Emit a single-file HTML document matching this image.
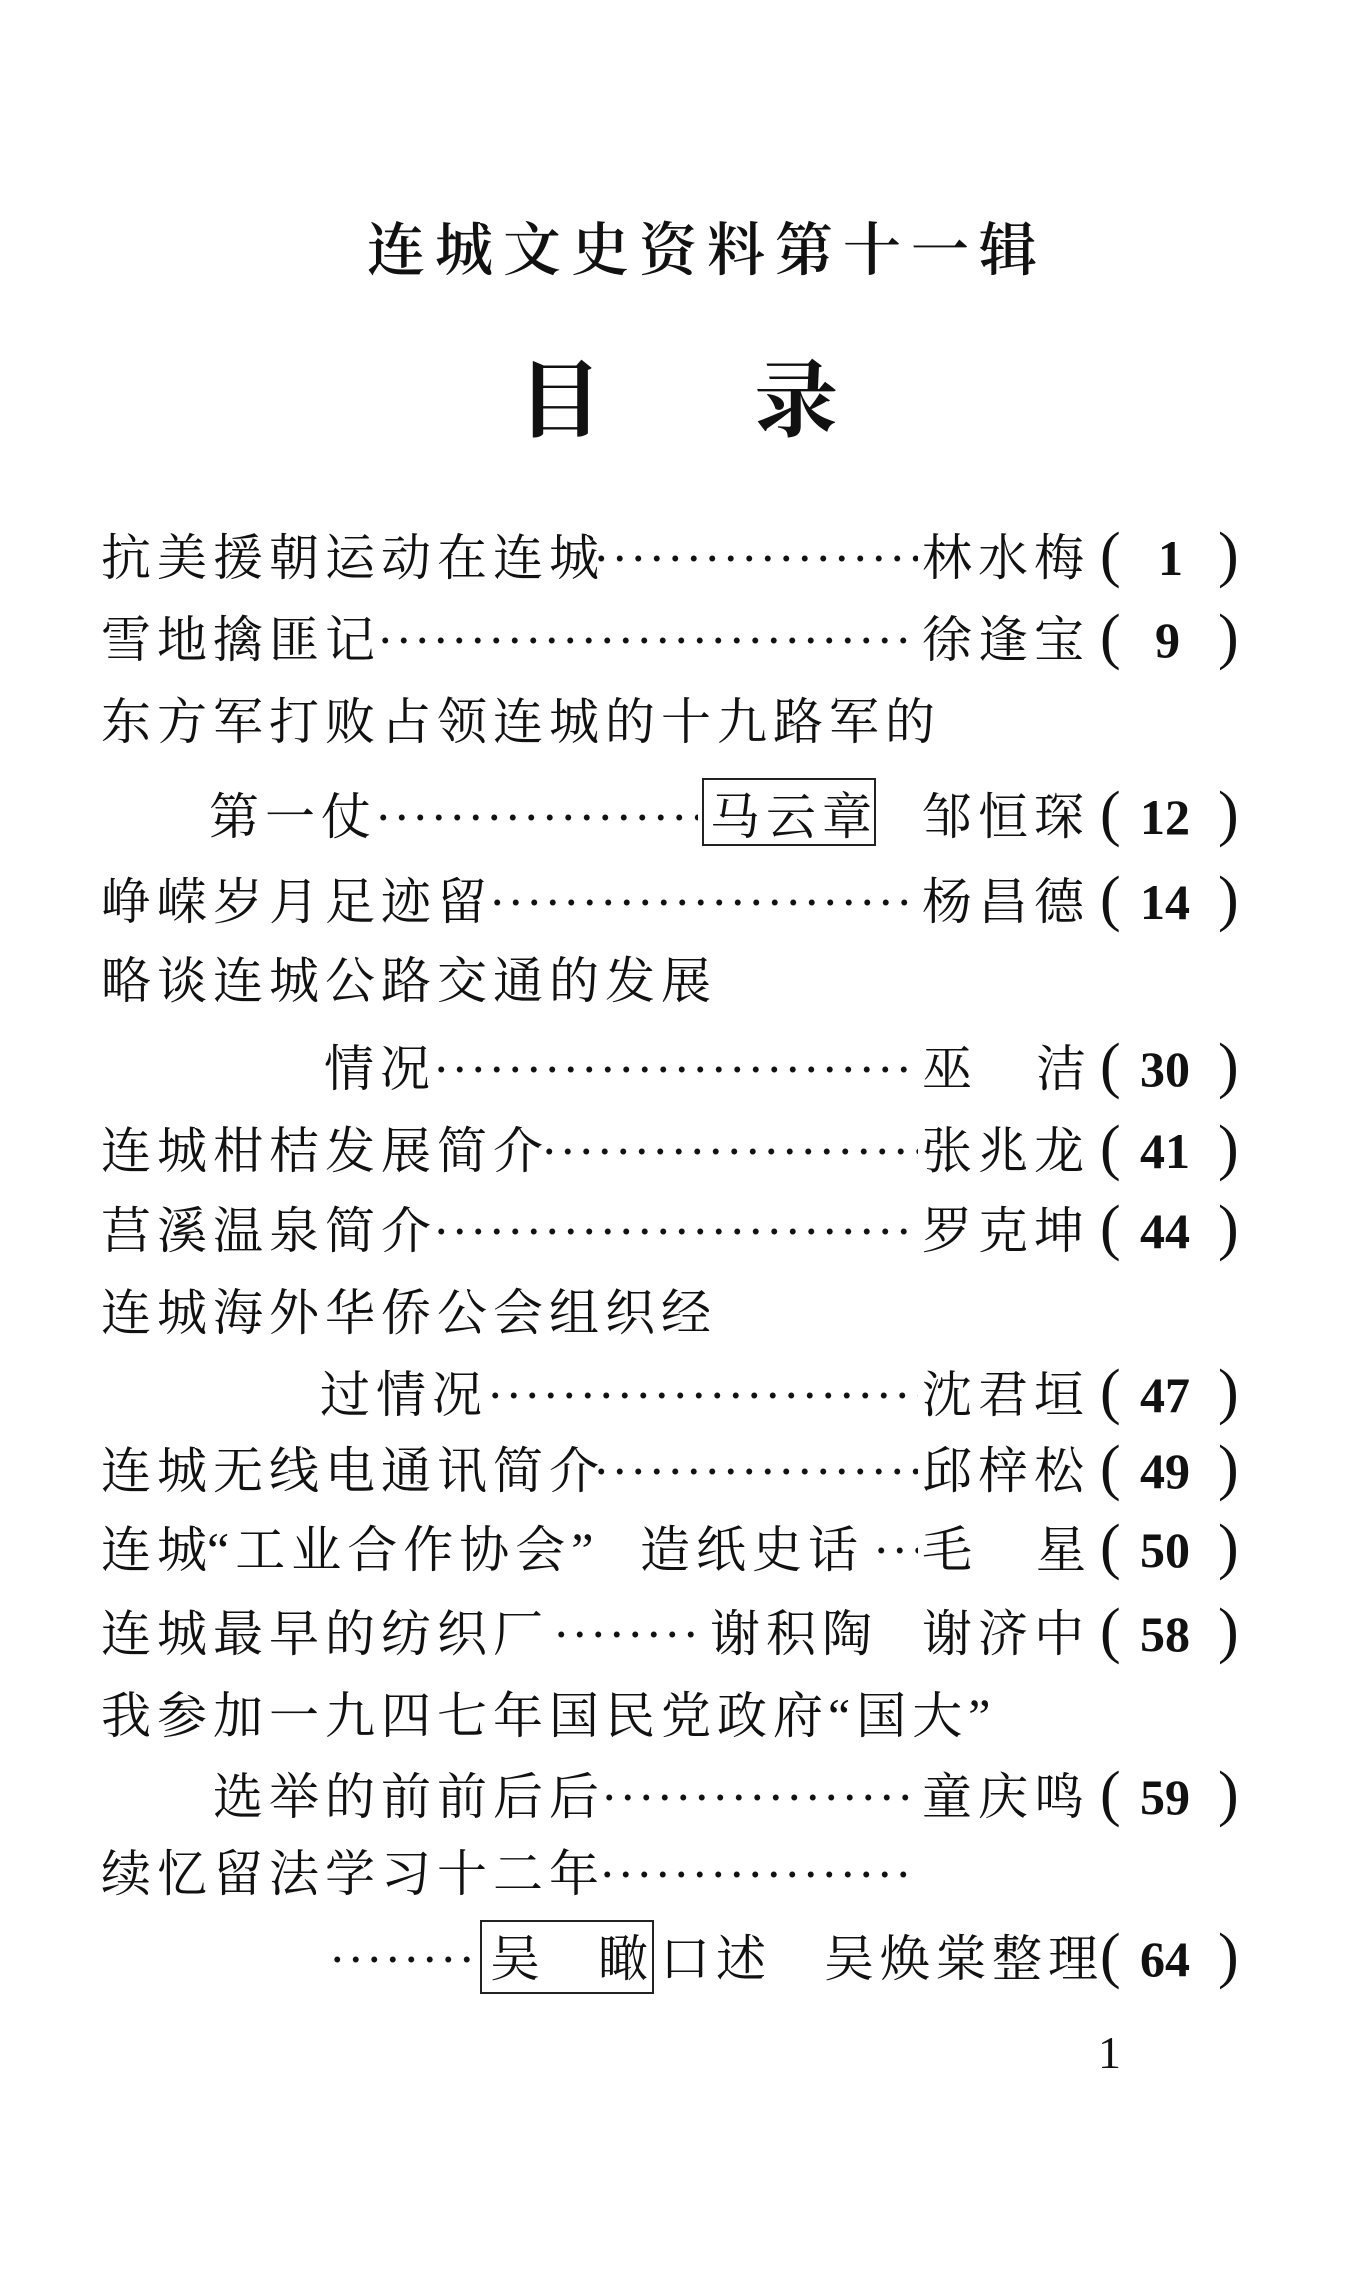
<!DOCTYPE html>
<html><head><meta charset="utf-8">
<style>
html,body{margin:0;padding:0;background:#fff;}
body{width:1347px;height:2280px;position:relative;overflow:hidden;color:#111;
font-family:"Liberation Serif","Noto Serif CJK SC",serif;}
.t{position:absolute;white-space:nowrap;}
.title{top:218px;left:367px;font-size:58px;letter-spacing:10px;font-weight:600;line-height:66px;}
.ml{top:355px;font-size:84px;font-weight:bold;line-height:96px;}
.row{position:absolute;left:0;width:1347px;height:60px;}
.row span{position:absolute;top:0;line-height:60px;font-size:50px;white-space:nowrap;letter-spacing:6px;}
.d{height:60px;background:radial-gradient(circle,#111 2.6px,transparent 3.2px) 0 center/18.5px 18.5px repeat-x;}
.p{font-family:"Liberation Serif",serif;font-weight:bold;letter-spacing:0 !important;}
.row span.q{font-family:"Liberation Serif",serif;font-weight:normal;font-size:62px;letter-spacing:0;top:-3px;}
.box{position:absolute;border:2px solid #222;border-style:solid double;}
</style></head><body>
<div class="t title">连城文史资料第十一辑</div>
<div class="t ml" style="left:518px">目</div>
<div class="t ml" style="left:754px">录</div>

<div class="row" style="top:528px"><span style="left:101px">抗美援朝运动在连城</span><span class="d" style="left:592px;width:326px"></span><span style="left:922px">林水梅</span><span class="q" style="left:1100px">(</span><span class="p" style="left:1158px">1</span><span class="q" style="left:1218px">)</span></div>

<div class="row" style="top:610px"><span style="left:101px">雪地擒匪记</span><span class="d" style="left:376px;width:542px"></span><span style="left:922px">徐逢宝</span><span class="q" style="left:1100px">(</span><span class="p" style="left:1155px">9</span><span class="q" style="left:1218px">)</span></div>

<div class="row" style="top:692px"><span style="left:101px">东方军打败占领连城的十九路军的</span></div>

<div class="row" style="top:787px"><span style="left:209px">第一仗</span><span class="d" style="left:374px;width:324px"></span><span style="left:710px">马云章</span><span style="left:922px">邹恒琛</span><span class="q" style="left:1100px">(</span><span class="p" style="left:1140px">12</span><span class="q" style="left:1218px">)</span></div>
<div class="box" style="left:702px;top:778px;width:170px;height:64px"></div>

<div class="row" style="top:872px"><span style="left:101px">峥嵘岁月足迹留</span><span class="d" style="left:488px;width:430px"></span><span style="left:922px">杨昌德</span><span class="q" style="left:1100px">(</span><span class="p" style="left:1140px">14</span><span class="q" style="left:1218px">)</span></div>

<div class="row" style="top:951px"><span style="left:101px">略谈连城公路交通的发展</span></div>

<div class="row" style="top:1039px"><span style="left:324px">情况</span><span class="d" style="left:432px;width:486px"></span><span style="left:922px">巫</span><span style="left:1036px">洁</span><span class="q" style="left:1100px">(</span><span class="p" style="left:1140px">30</span><span class="q" style="left:1218px">)</span></div>

<div class="row" style="top:1121px"><span style="left:101px">连城柑桔发展简介</span><span class="d" style="left:540px;width:378px"></span><span style="left:922px">张兆龙</span><span class="q" style="left:1100px">(</span><span class="p" style="left:1140px">41</span><span class="q" style="left:1218px">)</span></div>

<div class="row" style="top:1201px"><span style="left:101px">莒溪温泉简介</span><span class="d" style="left:432px;width:486px"></span><span style="left:922px">罗克坤</span><span class="q" style="left:1100px">(</span><span class="p" style="left:1140px">44</span><span class="q" style="left:1218px">)</span></div>

<div class="row" style="top:1283px"><span style="left:101px">连城海外华侨公会组织经</span></div>

<div class="row" style="top:1365px"><span style="left:320px">过情况</span><span class="d" style="left:486px;width:432px"></span><span style="left:922px">沈君垣</span><span class="q" style="left:1100px">(</span><span class="p" style="left:1140px">47</span><span class="q" style="left:1218px">)</span></div>

<div class="row" style="top:1441px"><span style="left:101px">连城无线电通讯简介</span><span class="d" style="left:592px;width:326px"></span><span style="left:922px">邱梓松</span><span class="q" style="left:1100px">(</span><span class="p" style="left:1140px">49</span><span class="q" style="left:1218px">)</span></div>

<div class="row" style="top:1520px"><span style="left:101px">连城</span><span style="left:207px">“工业合作协会”</span><span style="left:640px">造纸史话</span><span class="d" style="left:872px;width:46px"></span><span style="left:922px">毛</span><span style="left:1036px">星</span><span class="q" style="left:1100px">(</span><span class="p" style="left:1140px">50</span><span class="q" style="left:1218px">)</span></div>

<div class="row" style="top:1604px"><span style="left:101px">连城最早的纺织厂</span><span class="d" style="left:552px;width:152px"></span><span style="left:710px">谢积陶</span><span style="left:922px">谢济中</span><span class="q" style="left:1100px">(</span><span class="p" style="left:1140px">58</span><span class="q" style="left:1218px">)</span></div>

<div class="row" style="top:1686px"><span style="left:101px">我参加一九四七年国民党政府</span><span style="left:828px">“国大”</span></div>

<div class="row" style="top:1767px"><span style="left:213px">选举的前前后后</span><span class="d" style="left:600px;width:318px"></span><span style="left:922px">童庆鸣</span><span class="q" style="left:1100px">(</span><span class="p" style="left:1140px">59</span><span class="q" style="left:1218px">)</span></div>

<div class="row" style="top:1844px"><span style="left:101px">续忆留法学习十二年</span><span class="d" style="left:598px;width:320px"></span></div>

<div class="row" style="top:1929px"><span class="d" style="left:328px;width:148px"></span><span style="left:490px">吴</span><span style="left:598px">瞰</span><span style="left:660px">口述</span><span style="left:824px">吴焕棠整理</span><span class="q" style="left:1100px">(</span><span class="p" style="left:1140px">64</span><span class="q" style="left:1218px">)</span></div>
<div class="box" style="left:480px;top:1920px;width:170px;height:70px"></div>

<div class="t" style="left:1098px;top:2025px;font-size:46px;line-height:56px;">1</div>
</body></html>
